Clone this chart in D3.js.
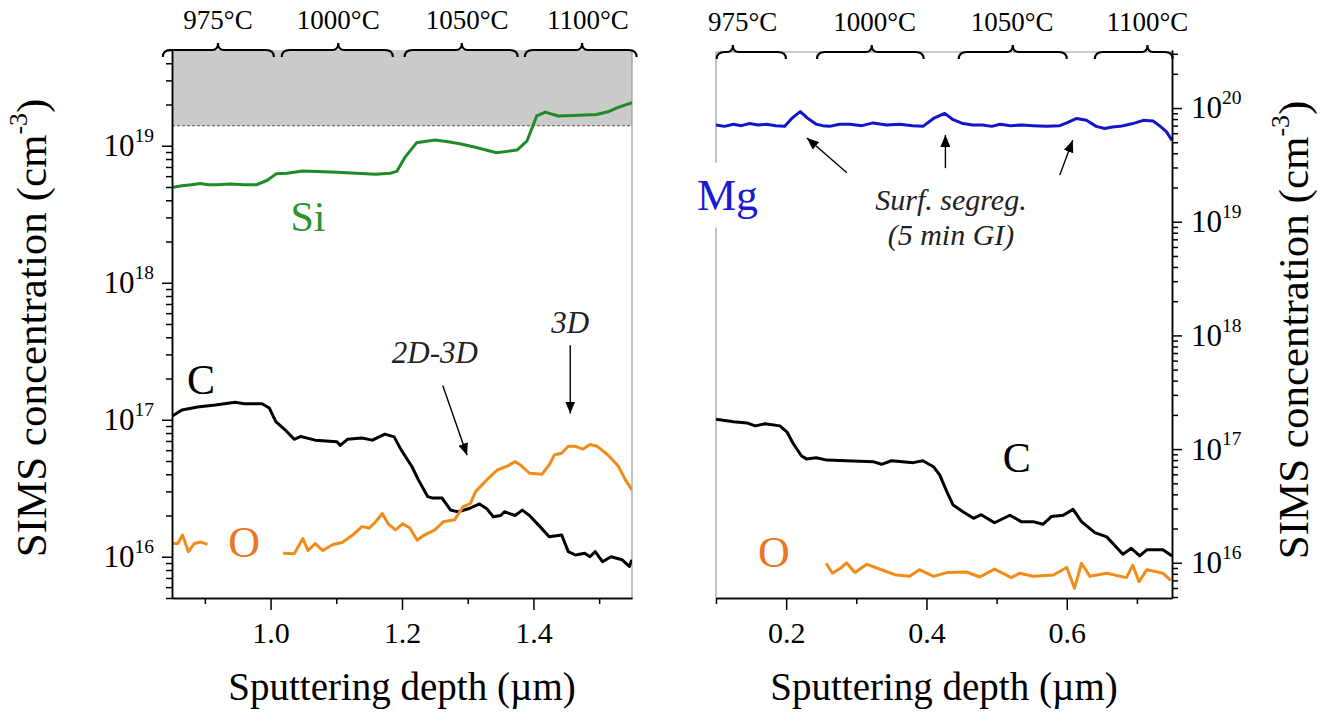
<!DOCTYPE html>
<html><head><meta charset="utf-8">
<script src="https://cdn.jsdelivr.net/npm/d3@7"></script>
<style>
body{margin:0;background:#fff}
svg{display:block}
</style>
</head><body>
<svg id="c" width="1325" height="722" font-family="Liberation Serif"></svg>
<script>
// ---------------- DATA ----------------
// Left panel (Si-doped): depth in µm, concentration in cm^-3
const siDepth = [0.85,0.865,0.88,0.893,0.905,0.918,0.94,0.96,0.979,0.995,1.009,1.025,1.049,1.07,1.101,1.13,1.16,1.182,1.192,1.205,1.222,1.25,1.27,1.288,1.31,1.344,1.36,1.375,1.39,1.398,1.405,1.418,1.438,1.47,1.496,1.515,1.527,1.55];
const siConc  = [4.95e18,5.1e18,5.2e18,5.3e18,5.2e18,5.2e18,5.25e18,5.2e18,5.2e18,5.6e18,6.26e18,6.3e18,6.55e18,6.5e18,6.4e18,6.3e18,6.2e18,6.3e18,6.5e18,8.3e18,1.05e19,1.1e19,1.07e19,1.035e19,9.8e18,8.9e18,9.1e18,9.3e18,1.08e19,1.35e19,1.65e19,1.76e19,1.65e19,1.67e19,1.69e19,1.78e19,1.89e19,2.06e19];

const cLeftDepth = [0.85,0.865,0.889,0.916,0.946,0.96,0.987,0.998,1.008,1.022,1.036,1.046,1.068,1.101,1.106,1.117,1.139,1.155,1.174,1.188,1.199,1.215,1.225,1.239,1.247,1.261,1.274,1.285,1.301,1.318,1.329,1.339,1.35,1.356,1.372,1.383,1.394,1.41,1.424,1.443,1.453,1.464,1.478,1.486,1.494,1.505,1.518,1.535,1.546,1.55];
const cLeftConc  = [1.06e17,1.18e17,1.24e17,1.28e17,1.34e17,1.31e17,1.31e17,1.22e17,9.7e16,8.45e16,7.2e16,7.55e16,7.1e16,6.9e16,6.5e16,7.2e16,7.35e16,7.1e16,7.85e16,7.5e16,6.0e16,4.56e16,3.64e16,2.75e16,2.68e16,2.68e16,2.19e16,2.13e16,2.24e16,2.43e16,2.24e16,1.96e16,2.0e16,2.13e16,2.0e16,2.19e16,2.0e16,1.66e16,1.40e16,1.44e16,1.09e16,1.03e16,1.06e16,1.0e16,1.09e16,9.2e15,1.0e16,9.5e15,8.5e15,9.5e15];

const oLeftDepth = [0.85,0.859,0.866,0.875,0.884,0.894,0.904,0.96,1.019,1.036,1.049,1.057,1.068,1.079,1.095,1.109,1.128,1.139,1.15,1.16,1.17,1.179,1.19,1.201,1.212,1.223,1.234,1.25,1.263,1.28,1.293,1.304,1.312,1.329,1.345,1.361,1.372,1.38,1.394,1.413,1.424,1.432,1.443,1.453,1.464,1.475,1.486,1.497,1.513,1.529,1.54,1.55];
const oLeftConc  = [1.25e16,1.25e16,1.44e16,1.09e16,1.25e16,1.28e16,1.23e16,null,1.06e16,1.05e16,1.36e16,1.11e16,1.25e16,1.11e16,1.23e16,1.27e16,1.48e16,1.66e16,1.62e16,1.80e16,2.07e16,1.74e16,1.57e16,1.74e16,1.62e16,1.32e16,1.44e16,1.57e16,1.80e16,1.86e16,2.32e16,2.44e16,2.99e16,3.64e16,4.3e16,4.6e16,4.95e16,4.68e16,4.07e16,4.0e16,4.68e16,5.55e16,5.7e16,6.4e16,6.4e16,6.1e16,6.6e16,6.4e16,5.55e16,4.6e16,3.64e16,3.08e16];

// Right panel (Mg-doped)
const mgDepth = [0.1,0.112,0.125,0.136,0.148,0.16,0.172,0.185,0.198,0.208,0.22,0.231,0.243,0.252,0.262,0.276,0.291,0.308,0.324,0.343,0.362,0.38,0.395,0.41,0.426,0.438,0.452,0.466,0.48,0.493,0.505,0.52,0.536,0.552,0.571,0.59,0.6,0.614,0.628,0.642,0.654,0.665,0.676,0.685,0.694,0.709,0.723,0.732,0.742,0.75];
const mgConc  = [7.08e19,6.9e19,7.2e19,7.0e19,7.3e19,7.1e19,7.2e19,7.0e19,6.9e19,8.1e19,9.3e19,8.1e19,7.2e19,7.0e19,6.9e19,7.2e19,7.2e19,7.0e19,7.4e19,7.1e19,7.2e19,7.0e19,6.9e19,8.1e19,8.97e19,7.9e19,7.3e19,7.1e19,7.1e19,6.9e19,7.2e19,7.0e19,7.1e19,7.0e19,6.9e19,7.0e19,7.4e19,8.1e19,7.8e19,6.9e19,6.6e19,6.8e19,6.9e19,7.1e19,7.3e19,7.8e19,7.7e19,7.0e19,6.2e19,5.2e19];

const cRightDepth = [0.1,0.125,0.144,0.156,0.17,0.191,0.201,0.21,0.222,0.229,0.243,0.258,0.286,0.324,0.336,0.35,0.381,0.395,0.41,0.419,0.429,0.438,0.452,0.467,0.478,0.497,0.519,0.535,0.552,0.566,0.578,0.595,0.609,0.621,0.64,0.657,0.68,0.692,0.704,0.714,0.737,0.75];
const cRightConc  = [1.83e17,1.74e17,1.7e17,1.6e17,1.67e17,1.6e17,1.42e17,1.12e17,8.7e16,8.2e16,8.4e16,8.0e16,7.9e16,7.75e16,7.35e16,7.9e16,7.6e16,7.9e16,7.0e16,5.9e16,4.22e16,3.22e16,2.81e16,2.46e16,2.65e16,2.25e16,2.62e16,2.3e16,2.3e16,2.18e16,2.55e16,2.62e16,2.95e16,2.3e16,1.84e16,1.69e16,1.19e16,1.34e16,1.15e16,1.3e16,1.3e16,1.15e16];

const oRightDepth = [0.257,0.266,0.277,0.286,0.298,0.315,0.338,0.357,0.376,0.39,0.41,0.429,0.457,0.476,0.497,0.521,0.533,0.552,0.581,0.6,0.611,0.621,0.633,0.657,0.685,0.694,0.703,0.714,0.737,0.748];
const oRightConc  = [9.9e15,8.1e15,8.9e15,1.0e16,8.2e15,9.7e15,8.6e15,7.8e15,7.6e15,8.7e15,7.6e15,8.2e15,8.3e15,7.5e15,8.8e15,7.4e15,8.1e15,7.6e15,7.8e15,9.1e15,5.96e15,9.9e15,7.6e15,8.1e15,7.4e15,9.5e15,6.8e15,8.7e15,8.1e15,7.0e15];

// Growth temperature steps (braces on top)
const tempLabels = ["975°C","1000°C","1050°C","1100°C"];
const leftStepFrom = [0.836,1.017,1.204,1.387];
const leftStepTo   = [1.005,1.186,1.376,1.557];
const leftStepTip  = [0.920,1.103,1.291,1.474];
const leftLabelAt  = [0.920,1.103,1.299,1.483];
const rightStepFrom = [0.101,0.244,0.446,0.640];
const rightStepTo   = [0.1997,0.396,0.600,0.751];
const rightStepTip  = [0.124,0.322,0.523,0.715];
const rightLabelAt  = [0.138,0.326,0.522,0.715];

// Axis ticks
const leftXMajor = [1.0,1.2,1.4];
const leftXMinor = [0.9,1.1,1.3,1.5];
const rightXMajor = [0.2,0.4,0.6];
const rightXMinor = [0.1,0.3,0.5,0.7];
const leftYMajor = [1e16,1e17,1e18,1e19];
const rightYMajor = [1e16,1e17,1e18,1e19,1e20];
const siSaturation = 1.4e19;

// ---------------- DRAWING ----------------
const svg = d3.select('#c');
const FONT = "Liberation Serif";

const xL = d3.scaleLinear([0.85,1.55],[172,632]);
const yL = d3.scaleLog([5e15,5e19],[598,50]);
const xR = d3.scaleLinear([0.1,0.75],[716,1172]);
const yR = d3.scaleLog([4.9e15,3.24e20],[598,50]);

const defs = svg.append('defs');
defs.append('clipPath').attr('id','clipL').append('rect').attr('x',172).attr('y',50).attr('width',460).attr('height',548);
defs.append('clipPath').attr('id','clipR').append('rect').attr('x',716).attr('y',50).attr('width',456).attr('height',548);
defs.append('marker').attr('id','arr').attr('viewBox','0 0 12 10').attr('refX',12).attr('refY',5)
  .attr('markerWidth',12).attr('markerHeight',10).attr('markerUnits','userSpaceOnUse').attr('orient','auto')
  .append('path').attr('d','M0,0 L12,5 L0,10 Z').attr('fill','#000');

function minors(dom){const out=[];for(let e=Math.floor(Math.log10(dom[0]));e<=Math.ceil(Math.log10(dom[1]));e++){for(let m=2;m<=9;m++){const v=m*Math.pow(10,e);if(v>=dom[0]&&v<=dom[1])out.push(v);}}return out;}
function styleAxis(g){
  g.attr('font-family',FONT).attr('font-size',30);
  g.select('.domain').attr('stroke','#000').attr('stroke-width',1.5);
  g.selectAll('.tick line').attr('stroke','#000').attr('stroke-width',1.5);
  g.selectAll('.tick text').attr('font-family',FONT).attr('fill','#000');
}
function powLabels(g){
  g.selectAll('.tick text').each(function(d){
    const e=Math.round(Math.log10(d));const t=d3.select(this);t.text(null);
    t.append('tspan').text('10');
    t.append('tspan').attr('dy','-0.72em').attr('font-size','0.63em').text(e);
  }).attr('font-size',31);
}
const zip=(a,b)=>a.map((d,i)=>({d:d,v:b[i]}));

// ---- Left panel background: saturation zone
const gL = svg.append('g');
gL.append('rect').attr('x',xL(0.85)).attr('y',yL(5e19)).attr('width',xL(1.55)-xL(0.85)).attr('height',yL(siSaturation)-yL(5e19)).attr('fill','#cbcbcb');
gL.append('line').attr('x1',xL(0.85)).attr('x2',xL(1.55)).attr('y1',yL(siSaturation)).attr('y2',yL(siSaturation))
  .attr('stroke','#555').attr('stroke-width',1).attr('stroke-dasharray','3,2');
gL.append('line').attr('x1',xL(1.55)).attr('x2',xL(1.55)).attr('y1',50).attr('y2',598).attr('stroke','#9a9a9a').attr('stroke-width',1.2);

const lineL = d3.line().defined(p=>p.v!=null).x(p=>xL(p.d)).y(p=>yL(p.v));
const lineR = d3.line().defined(p=>p.v!=null).x(p=>xR(p.d)).y(p=>yR(p.v));
const curvesL = gL.append('g').attr('clip-path','url(#clipL)');
curvesL.append('path').attr('d',lineL(zip(siDepth,siConc))).attr('fill','none').attr('stroke','#1f8a26').attr('stroke-width',3).attr('stroke-linejoin','round');
curvesL.append('path').attr('d',lineL(zip(cLeftDepth,cLeftConc))).attr('fill','none').attr('stroke','#000').attr('stroke-width',3).attr('stroke-linejoin','round');
curvesL.append('path').attr('d',lineL(zip(oLeftDepth,oLeftConc))).attr('fill','none').attr('stroke','#f28c18').attr('stroke-width',3).attr('stroke-linejoin','round');

// ---- Right panel frame
const gR = svg.append('g');
gR.append('line').attr('x1',xR(0.1)).attr('x2',xR(0.1)).attr('y1',52).attr('y2',598).attr('stroke','#9a9a9a').attr('stroke-width',1.2);
gR.append('line').attr('x1',xR(0.1)).attr('x2',xR(0.75)).attr('y1',52).attr('y2',52).attr('stroke','#9a9a9a').attr('stroke-width',1.2);
const curvesR = gR.append('g').attr('clip-path','url(#clipR)');
curvesR.append('path').attr('d',lineR(zip(mgDepth,mgConc))).attr('fill','none').attr('stroke','#1414cc').attr('stroke-width',3).attr('stroke-linejoin','round');
curvesR.append('path').attr('d',lineR(zip(cRightDepth,cRightConc))).attr('fill','none').attr('stroke','#000').attr('stroke-width',3).attr('stroke-linejoin','round');
curvesR.append('path').attr('d',lineR(zip(oRightDepth,oRightConc))).attr('fill','none').attr('stroke','#f28c18').attr('stroke-width',3).attr('stroke-linejoin','round');

// ---- Axes
const axLy = svg.append('g').attr('transform','translate(172,0)')
  .call(d3.axisLeft(yL).tickValues(leftYMajor).tickSize(10).tickSizeOuter(0).tickPadding(8));
styleAxis(axLy); powLabels(axLy);
const axLyMin = svg.append('g').attr('transform','translate(172,0)')
  .call(d3.axisLeft(yL).tickValues(minors(yL.domain())).tickSize(6).tickSizeOuter(0).tickFormat(''));
styleAxis(axLyMin);

const axRy = svg.append('g').attr('transform','translate(1172,0)')
  .call(d3.axisRight(yR).tickValues(rightYMajor).tickSize(10).tickSizeOuter(0).tickPadding(9));
styleAxis(axRy); powLabels(axRy);
const axRyMin = svg.append('g').attr('transform','translate(1172,0)')
  .call(d3.axisRight(yR).tickValues(minors(yR.domain())).tickSize(6).tickSizeOuter(0).tickFormat(''));
styleAxis(axRyMin);

function xAxes(scale,major,minor){
  const a = svg.append('g').attr('transform','translate(0,598)')
    .call(d3.axisBottom(scale).tickValues(major).tickSize(12).tickSizeOuter(0).tickPadding(12).tickFormat(d3.format('.1f')));
  styleAxis(a); a.selectAll('.tick text').attr('font-size',30);
  const b = svg.append('g').attr('transform','translate(0,598)')
    .call(d3.axisBottom(scale).tickValues(minor).tickSize(6).tickSizeOuter(0).tickFormat(''));
  styleAxis(b);
}
xAxes(xL,leftXMajor,leftXMinor);
xAxes(xR,rightXMajor,rightXMinor);

// ---- Axis titles
function yTitle(x,y){
  const t = svg.append('text').attr('transform',`translate(${x},${y}) rotate(-90)`).attr('text-anchor','middle')
    .attr('font-size',43).attr('font-family',FONT).attr('fill','#000');
  t.append('tspan').text('SIMS concentration (cm');
  t.append('tspan').attr('dy','-0.75em').attr('font-size','0.6em').text('-3');
  t.append('tspan').attr('dy','0.45em').text(')');
}
yTitle(46,328);
yTitle(1308,330);
svg.append('text').attr('x',(xL(0.85)+xL(1.55))/2).attr('y',700).attr('text-anchor','middle').attr('font-size',39).attr('font-family',FONT).text('Sputtering depth (µm)');
svg.append('text').attr('x',(xR(0.1)+xR(0.75))/2).attr('y',700).attr('text-anchor','middle').attr('font-size',39).attr('font-family',FONT).text('Sputtering depth (µm)');

// ---- Braces and temperature labels
function bracePath(x1,x2,xm,yb){
  const h=7,r=8,k=6;
  return `M${x1},${yb+h} Q${x1},${yb} ${x1+r},${yb} L${xm-k},${yb} Q${xm},${yb} ${xm},${yb-h} Q${xm},${yb} ${xm+k},${yb} L${x2-r},${yb} Q${x2},${yb} ${x2},${yb+h}`;
}
function braces(scale,from,to,tip,labAt,yb,ty){
  const g = svg.append('g');
  g.selectAll('path').data(from).join('path')
    .attr('d',(d,i)=>bracePath(scale(from[i]),scale(to[i]),scale(tip[i]),yb))
    .attr('fill','none').attr('stroke','#000').attr('stroke-width',2);
  g.selectAll('text').data(tempLabels).join('text')
    .attr('x',(d,i)=>scale(labAt[i])).attr('y',ty).attr('text-anchor','middle').attr('font-size',27).attr('font-family',FONT).text(d=>d);
}
braces(xL,leftStepFrom,leftStepTo,leftStepTip,leftLabelAt,50,29);
braces(xR,rightStepFrom,rightStepTo,rightStepTip,rightLabelAt,52,31);

// ---- Species labels
function label(x,y,txt,color,size,italic){
  return svg.append('text').attr('x',x).attr('y',y).attr('text-anchor','middle').attr('dominant-baseline','central')
    .attr('font-family',FONT).attr('font-size',size).attr('font-style',italic?'italic':'normal').attr('fill',color).text(txt);
}
label(xL(1.057),yL(3.03e18),'Si','#2a9430',42);
label(xL(0.894),yL(1.94e17),'C','#000',42);
label(xL(0.9596),yL(1.28e16),'O','#ee7420',44);
// Mg label with white background that interrupts the frame
const mgBg = svg.append('rect').attr('fill','#fff');
const mgT = label(xR(0.1164),yR(1.71e19),'Mg','#1a1ad4',44);
const bb = mgT.node().getBBox();
mgBg.attr('x',bb.x-2).attr('y',bb.y-8).attr('width',bb.width+4).attr('height',bb.height+16);
label(xR(0.5288),yR(8.3e16),'C','#000',42);
label(xR(0.1826),yR(1.22e16),'O','#ee7420',44);

// ---- Annotations
label(xL(1.250),yL(3.1e17),'2D-3D','#222',31,true);
label(xL(1.456),yL(5.1e17),'3D','#222',31,true);
svg.append('text').attr('x',xR(0.435)).attr('y',yR(1.27e19)).attr('text-anchor','middle').attr('font-family',FONT).attr('font-size',30).attr('font-style','italic').attr('fill','#222').text('Surf. segreg.');
svg.append('text').attr('x',xR(0.435)).attr('y',yR(6.2e18)).attr('text-anchor','middle').attr('font-family',FONT).attr('font-size',30).attr('font-style','italic').attr('fill','#222').text('(5 min GI)');

function arrow(sx,sy,x1,y1,x2,y2){
  svg.append('line').attr('x1',sx(x1)).attr('y1',sy(y1)).attr('x2',sx(x2)).attr('y2',sy(y2))
    .attr('stroke','#000').attr('stroke-width',1.4).attr('marker-end','url(#arr)');
}
arrow(xL,yL,1.262,1.78e17,1.299,5.5e16);
arrow(xL,yL,1.456,3.5e17,1.456,1.11e17);
arrow(xR,yR,0.2866,2.7e19,0.2296,5.45e19);
arrow(xR,yR,0.427,2.96e19,0.427,5.8e19);
arrow(xR,yR,0.590,2.57e19,0.6085,5.2e19);
</script>
</body></html>
